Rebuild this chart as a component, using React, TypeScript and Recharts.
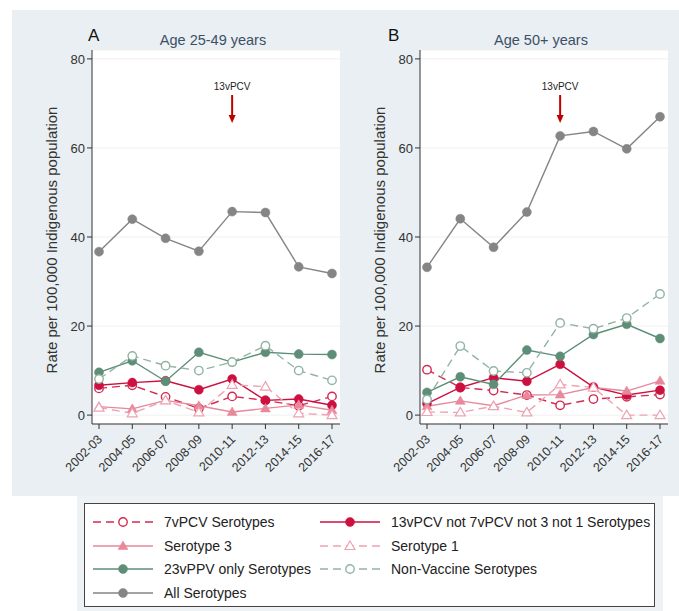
import React from "react";
import {
  LineChart,
  Line,
  XAxis,
  YAxis,
  CartesianGrid,
  ReferenceDot,
} from "recharts";

// reporting periods
const years = [
  "2002-03",
  "2004-05",
  "2006-07",
  "2008-09",
  "2010-11",
  "2012-13",
  "2014-15",
  "2016-17",
];

// rates per 100,000, age 25-49
const youngPcv7 = [6.0, 6.7, 4.1, 1.5, 4.2, 3.3, 2.1, 4.2];
const youngPcv13 = [6.7, 7.3, 7.7, 5.7, 8.1, 3.3, 3.6, 2.2];
const youngSero3 = [1.9, 1.4, 3.3, 2.1, 0.7, 1.5, 2.3, 1.1];
const youngSero1 = [1.7, 0.4, 3.3, 0.6, 6.8, 6.4, 0.4, 0.0];
const youngPpv23 = [9.6, 12.2, 7.6, 14.1, 11.9, 14.1, 13.7, 13.6];
const youngNonVax = [8.1, 13.3, 11.1, 10.0, 11.9, 15.6, 10.0, 7.8];
const youngAll = [36.7, 44.0, 39.7, 36.8, 45.7, 45.5, 33.3, 31.8];

// rates per 100,000, age 50+
const olderPcv7 = [10.2, 6.2, 5.5, 4.5, 2.2, 3.6, 4.1, 4.6];
const olderPcv13 = [2.6, 6.2, 8.4, 7.6, 11.4, 6.3, 4.5, 5.6];
const olderSero3 = [2.0, 3.2, 2.1, 4.5, 4.6, 6.2, 5.4, 7.7];
const olderSero1 = [0.7, 0.6, 2.0, 0.6, 6.9, 6.2, 0.0, 0.0];
const olderPpv23 = [5.1, 8.6, 6.9, 14.6, 13.2, 18.1, 20.4, 17.2];
const olderNonVax = [3.5, 15.5, 9.9, 9.5, 20.7, 19.4, 21.8, 27.2];
const olderAll = [33.2, 44.1, 37.7, 45.6, 62.7, 63.7, 59.8, 67.0];

const yTicks = [0, 20, 40, 60, 80];
const vaccineYear = "2010-11";
const vaccineLabel = "13vPCV";

type Marker = "dot" | "ring" | "tri" | "triOpen";

interface Series {
  key: string;
  name: string;
  color: string;
  dash?: string;
  marker: Marker;
}

const series: Series[] = [
  { key: "pcv7", name: "7vPCV Serotypes", color: "#d42a52", dash: "8 5", marker: "ring" },
  { key: "pcv13", name: "13vPCV not 7vPCV not 3 not 1 Serotypes", color: "#cc1040", marker: "dot" },
  { key: "sero3", name: "Serotype 3", color: "#e8889b", marker: "tri" },
  { key: "sero1", name: "Serotype 1", color: "#eea3b2", dash: "8 5", marker: "triOpen" },
  { key: "ppv23", name: "23vPPV only Serotypes", color: "#5e8e78", marker: "dot" },
  { key: "nonVax", name: "Non-Vaccine Serotypes", color: "#92b4a3", dash: "8 5", marker: "ring" },
  { key: "all", name: "All Serotypes", color: "#858585", marker: "dot" },
];

const buildRows = (cols: Record<string, number[]>) =>
  years.map((year, i) => {
    const row: Record<string, string | number> = { year };
    Object.keys(cols).forEach((k) => (row[k] = cols[k][i]));
    return row;
  });

const youngRows = buildRows({
  pcv7: youngPcv7,
  pcv13: youngPcv13,
  sero3: youngSero3,
  sero1: youngSero1,
  ppv23: youngPpv23,
  nonVax: youngNonVax,
  all: youngAll,
});

const olderRows = buildRows({
  pcv7: olderPcv7,
  pcv13: olderPcv13,
  sero3: olderSero3,
  sero1: olderSero1,
  ppv23: olderPpv23,
  nonVax: olderNonVax,
  all: olderAll,
});

function MarkerShape({ x, y, marker, color }: { x: number; y: number; marker: Marker; color: string }) {
  if (marker === "dot") return <circle cx={x} cy={y} r={4.5} fill={color} stroke={color} strokeWidth={0.5} />;
  if (marker === "ring") return <circle cx={x} cy={y} r={4.2} fill="#fff" stroke={color} strokeWidth={1.4} />;
  const pts = `${x},${y - 5} ${x + 5},${y + 3.5} ${x - 5},${y + 3.5}`;
  if (marker === "tri") return <polygon points={pts} fill={color} stroke={color} strokeWidth={0.5} />;
  return <polygon points={pts} fill="#fff" stroke={color} strokeWidth={1.2} />;
}

const makeDot = (s: Series) => (props: any) => {
  const { cx, cy, index } = props;
  if (cx == null || cy == null) return <g key={`${s.key}-${index}`} />;
  return (
    <g key={`${s.key}-${index}`}>
      <MarkerShape x={cx} y={cy} marker={s.marker} color={s.color} />
    </g>
  );
};

const YearTick = (props: any) => {
  const { x, y, payload } = props;
  const tx = x + 4;
  const ty = y + 9;
  return (
    <text
      x={tx}
      y={ty}
      textAnchor="end"
      fontSize={12.5}
      fill="#333"
      transform={`rotate(-45 ${tx} ${ty})`}
    >
      {payload.value}
    </text>
  );
};

const VaccineArrow = (props: any) => {
  const { cx, cy } = props;
  if (cx == null || cy == null) return <g />;
  return (
    <g>
      <text x={cx} y={cy - 33} textAnchor="middle" fontSize={10} fill="#222">
        {vaccineLabel}
      </text>
      <line x1={cx} y1={cy - 28} x2={cx} y2={cy - 7} stroke="#c00000" strokeWidth={2} />
      <polygon points={`${cx - 3.5},${cy - 8} ${cx + 3.5},${cy - 8} ${cx},${cy}`} fill="#c00000" />
    </g>
  );
};

function Panel({ rows }: { rows: Record<string, string | number>[] }) {
  return (
    <LineChart width={320} height={440} data={rows} margin={{ top: 10, right: 10, left: 0, bottom: 0 }}>
      <CartesianGrid vertical={false} stroke="#efefef" fill="#ffffff" />
      <XAxis
        dataKey="year"
        padding={{ left: 7, right: 8 }}
        height={56}
        tick={<YearTick />}
        tickSize={5}
        interval={0}
        axisLine={{ stroke: "#333" }}
        tickLine={{ stroke: "#333" }}
      />
      <YAxis
        type="number"
        domain={[-2, 82]}
        ticks={yTicks}
        width={62}
        tickSize={5}
        tick={{ fill: "#333", fontSize: 13 }}
        axisLine={{ stroke: "#333" }}
        tickLine={{ stroke: "#333" }}
      />
      {series.map((s) => (
        <Line
          key={s.key}
          dataKey={s.key}
          name={s.name}
          type="linear"
          stroke={s.color}
          strokeWidth={1.4}
          strokeDasharray={s.dash}
          dot={makeDot(s)}
          activeDot={false}
          isAnimationActive={false}
        />
      ))}
      <ReferenceDot x={vaccineYear} y={65.6} shape={<VaccineArrow />} ifOverflow="visible" />
    </LineChart>
  );
}

const yLabel = "Rate per 100,000 Indigenous population";

function LegendSymbol({ s }: { s: Series }) {
  return (
    <svg width={62} height={14} style={{ flexShrink: 0 }}>
      <line x1={1} y1={7} x2={61} y2={7} stroke={s.color} strokeWidth={1.4} strokeDasharray={s.dash} />
      <MarkerShape x={31} y={7} marker={s.marker} color={s.color} />
    </svg>
  );
}

export default function App() {
  const textFont = '"Liberation Sans", Arial, sans-serif';
  const legendRows = [
    [series[0], series[1]],
    [series[2], series[3]],
    [series[4], series[5]],
    [series[6]],
  ];
  return (
    <div
      style={{
        position: "absolute",
        left: 0,
        top: 0,
        width: 679,
        height: 611,
        background: "#fff",
        fontFamily: textFont,
        overflow: "hidden",
      }}
    >
      <div style={{ position: "absolute", left: 12, top: 10, width: 667, height: 486, background: "#e9eff2" }} />
      <div style={{ position: "absolute", left: 77, top: 496, width: 586, height: 115, background: "#eef2f4" }} />

      <div style={{ position: "absolute", left: 88, top: 26, fontSize: 17, color: "#111" }}>A</div>
      <div style={{ position: "absolute", left: 213, top: 40, transform: "translate(-50%,-50%)", fontSize: 14.5, color: "#3d4f66", whiteSpace: "nowrap" }}>
        Age 25-49 years
      </div>
      <div style={{ position: "absolute", left: 388, top: 26, fontSize: 17, color: "#111" }}>B</div>
      <div style={{ position: "absolute", left: 541, top: 40, transform: "translate(-50%,-50%)", fontSize: 14.5, color: "#3d4f66", whiteSpace: "nowrap" }}>
        Age 50+ years
      </div>

      <div style={{ position: "absolute", left: 30, top: 40 }}>
        <Panel rows={youngRows} />
      </div>
      <div style={{ position: "absolute", left: 358, top: 40 }}>
        <Panel rows={olderRows} />
      </div>

      {[51, 379].map((cx) => (
        <div
          key={cx}
          style={{
            position: "absolute",
            left: cx,
            top: 240,
            transform: "translate(-50%,-50%) rotate(-90deg)",
            fontSize: 15,
            color: "#333",
            whiteSpace: "nowrap",
          }}
        >
          {yLabel}
        </div>
      ))}

      <div
        style={{
          position: "absolute",
          left: 84,
          top: 503,
          width: 571,
          height: 104,
          background: "#fff",
          border: "1px solid #444",
          boxSizing: "border-box",
        }}
      >
        {legendRows.map((row, r) =>
          row.map((s, c) => (
            <div
              key={s.key}
              style={{
                display: "flex",
                alignItems: "center",
                position: "absolute",
                left: c === 0 ? 7 : 234,
                top: 10 + r * 23.5,
                height: 16,
              }}
            >
              <LegendSymbol s={s} />
              <span style={{ marginLeft: 10, fontSize: 14, color: "#222", whiteSpace: "nowrap" }}>{s.name}</span>
            </div>
          ))
        )}
      </div>
    </div>
  );
}
